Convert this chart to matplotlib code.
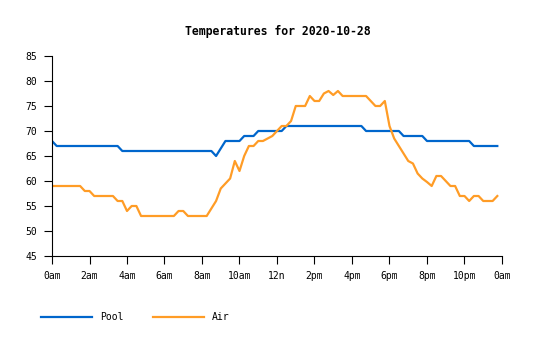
import numpy as np
import matplotlib
matplotlib.use('Agg')
import matplotlib.pyplot as plt

# readings every 15 minutes, 0:00 .. 23:45
hours = np.arange(96) / 4.0

pool = [68, 67, 67, 67, 67, 67, 67, 67, 67, 67, 67, 67, 67, 67, 67, 66,   # 0-3:45
        66, 66, 66, 66, 66, 66, 66, 66, 66, 66, 66, 66, 66, 66, 66, 66,   # 4-7:45
        66, 66, 66, 65, 66.5, 68, 68, 68, 68, 69, 69, 69, 70, 70, 70, 70,  # 8-11:45
        70, 70, 71, 71, 71, 71, 71, 71, 71, 71, 71, 71, 71, 71, 71, 71,   # 12-15:45
        71, 71, 71, 70, 70, 70, 70, 70, 70, 70, 70, 69, 69, 69, 69, 69,   # 16-19:45
        68, 68, 68, 68, 68, 68, 68, 68, 68, 68, 67, 67, 67, 67, 67, 67]   # 20-23:45

air = [59, 59, 59, 59, 59, 59, 59, 58, 58, 57, 57, 57, 57, 57, 56, 56,
       54, 55, 55, 53, 53, 53, 53, 53, 53, 53, 53, 54, 54, 53, 53, 53,
       53, 53, 54.5, 56, 58.5, 59.5, 60.5, 64, 62, 65, 67, 67, 68, 68, 68.5, 69,
       70, 71, 71, 72, 75, 75, 75, 77, 76, 76, 77.5, 78, 77.2, 78, 77, 77,
       77, 77, 77, 77, 76, 75, 75, 76, 71, 68.5, 67, 65.5, 64, 63.5, 61.5, 60.5,
       59.8, 59, 61, 61, 60, 59, 59, 57, 57, 56, 57, 57, 56, 56, 56, 57]

tick_hours = list(range(0, 25, 2))
tick_labels = ['0am', '2am', '4am', '6am', '8am', '10am', '12n',
               '2pm', '4pm', '6pm', '8pm', '10pm', '0am']

plt.rcParams['font.family'] = 'DejaVu Sans Mono'

fig = plt.figure(figsize=(5.35, 3.4), dpi=100)
ax = fig.add_axes([52/535, 1 - 256/340, 450/535, 200/340])

ax.plot(hours, pool, color='#0066cc', lw=1.6, label='Pool')
ax.plot(hours, air, color='#ff9c26', lw=1.6, label='Air')

ax.set_xlim(0, 24)
ax.set_ylim(45, 85)
ax.set_xticks(tick_hours)
ax.set_xticklabels(tick_labels)
ax.set_yticks(range(45, 86, 5))
ax.tick_params(axis='both', labelsize=7, width=0.8, length=5.5, color='black')
ax.tick_params(axis='y', pad=5)
ax.tick_params(axis='x', pad=5)
for s in ['top', 'right']:
    ax.spines[s].set_visible(False)
for s in ['left', 'bottom']:
    ax.spines[s].set_linewidth(0.8)

fig.text(278/535, 1 - 31/340, 'Temperatures for 2020-10-28', ha='center', va='center',
         fontsize=8.3, fontweight='bold')

fig.legend(loc='center left', bbox_to_anchor=(41/535, 1 - 317/340), ncol=2, frameon=False,
           fontsize=7, handlelength=5.2, handletextpad=0.9, columnspacing=3.0,
           borderpad=0, borderaxespad=0)

fig.savefig('out.png', dpi=100)
